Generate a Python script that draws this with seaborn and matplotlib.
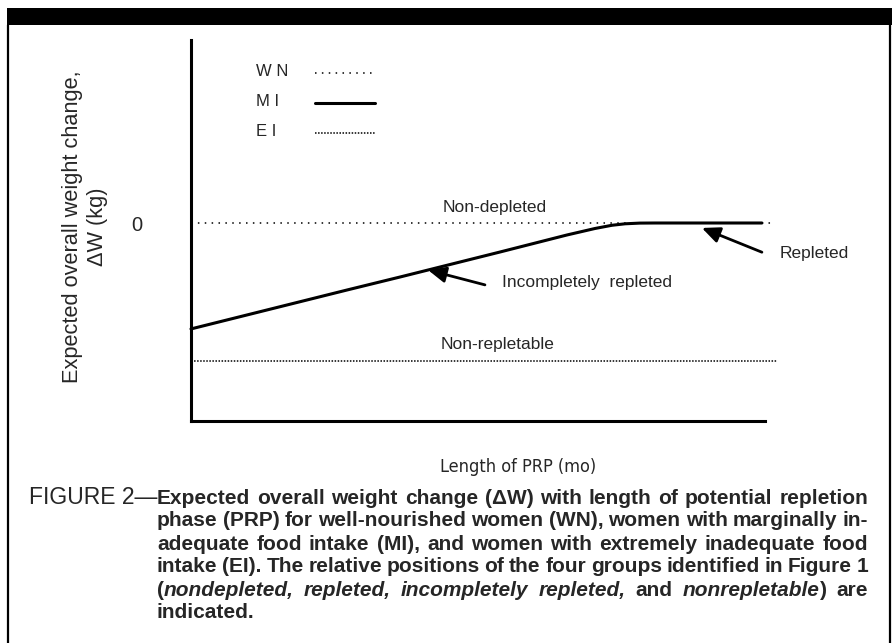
import numpy as np
import pandas as pd
import seaborn as sns
import matplotlib.pyplot as plt
from matplotlib.patches import Rectangle
from matplotlib.lines import Line2D

# length of PRP (months) and expected weight change (kg)
wn_x = [0.0, 24.4]
wn_y = [0.0, 0.0]
mi_x = [0.0, 6.52, 8.74, 12.92, 15.72, 16.89, 17.60, 18.15, 18.77, 19.40, 23.87]
mi_y = [-2.14, -1.354, -1.091, -0.586, -0.242, -0.111, -0.046, -0.016, -0.002, 0.0, 0.0]
ei_x = [0.0, 24.5]
ei_y = [-2.79, -2.79]

series_labels = ["W N", "M I", "E I"]

caption_head = "FIGURE 2\u2014"
caption_lines = [
    [[(w, "n")] for w in "Expected overall weight change (\u0394W) with length of potential repletion".split()],
    [[(w, "n")] for w in "phase (PRP) for well-nourished women (WN), women with marginally in-".split()],
    [[(w, "n")] for w in "adequate food intake (MI), and women with extremely inadequate food".split()],
    [[(w, "n")] for w in "intake (EI). The relative positions of the four groups identified in Figure 1".split()],
    [[("(", "n"), ("nondepleted,", "i")], [("repleted,", "i")], [("incompletely", "i")], [("repleted,", "i")],
     [("and", "n")], [("nonrepletable", "i"), (")", "n")], [("are", "n")]],
    [[("indicated.", "n")]],
]

W, H = 895, 643
sns.set_style("white")
plain = ["Liberation Sans", "DejaVu Sans"]
plt.rcParams["font.family"] = plain

fig = plt.figure(figsize=(W / 100, H / 100), dpi=100)
ax = fig.add_axes([191 / W, 1 - 421 / H, (765 - 191) / W, (421 - 40) / H])

def fx(x):
    return x / W

def fy(y):
    return 1 - y / H

# page frame
fig.add_artist(Rectangle((fx(7), fy(25)), fx(885), 17 / H, transform=fig.transFigure,
                         color="black", lw=0))
fig.add_artist(Line2D([fx(8), fx(8)], [fy(25), fy(643)], transform=fig.transFigure, color="black", lw=1.6))
fig.add_artist(Line2D([fx(890), fx(890)], [fy(25), fy(643)], transform=fig.transFigure, color="black", lw=1.6))

wn = pd.DataFrame({"x": wn_x, "y": wn_y})
mi = pd.DataFrame({"x": mi_x, "y": mi_y})
ei = pd.DataFrame({"x": ei_x, "y": ei_y})

styles = [dict(lw=1.1, linestyle=(0, (1, 3.5))), dict(lw=2.2, linestyle="-"), dict(lw=1.1, linestyle=(0, (1, 1)))]
for df, st in zip([wn, mi, ei], styles):
    sns.lineplot(data=df, x="x", y="y", ax=ax, color="black", clip_on=False, **st)

ax.set_xlim(0, 24)
ax.set_ylim(-4.0, 3.697)
sns.despine(ax=ax)
for s in ["left", "bottom"]:
    ax.spines[s].set_linewidth(2.2)
    ax.spines[s].set_color("black")
ax.set_xticks([])
ax.set_yticks([0])
ax.set_yticklabels(["0"], fontsize=14.5)
ax.tick_params(axis="y", direction="inout", length=26, width=2.2, pad=22, color="black")
ax.set_xlabel("")
ax.set_ylabel("")

ax.text(-0.184, 0.51, "Expected overall weight change,\n\u0394W (kg)", transform=ax.transAxes,
        rotation=90, ha="center", va="center", fontsize=15.7, linespacing=1.25, multialignment="center")
fig.text(fx(518), fy(467), "Length of PRP (mo)", ha="center", va="center", fontsize=13,
         family="DejaVu Sans", fontstretch="condensed")

# legend: labels left aligned, samples to the right
for i, (lab, st) in enumerate(zip(series_labels, styles)):
    yy = 72 + 30 * i
    fig.text(fx(256), fy(yy), lab, fontsize=12, ha="left", va="center")
    fig.add_artist(Line2D([fx(315), fx(375)], [fy(yy + 1), fy(yy + 1)], transform=fig.transFigure,
                          color="black", **st))

ax.text(12.71, 0.32, "Non-depleted", ha="center", va="center", fontsize=12.5)
ax.text(12.8, -2.46, "Non-repletable", ha="center", va="center", fontsize=12.5)
ax.text(13.0, -1.21, "Incompletely  repleted", ha="left", va="center", fontsize=12.5)
ax.text(24.62, -0.61, "Repleted", ha="left", va="center", fontsize=12.5, clip_on=False)

arrow = dict(arrowstyle="-|>,head_length=0.9,head_width=0.4", color="black", lw=2,
             shrinkA=0, shrinkB=0, mutation_scale=12)
ax.annotate("", xy=(9.91, -0.95), xytext=(12.29, -1.25), arrowprops=arrow)
ax.annotate("", xy=(21.36, -0.10), xytext=(23.87, -0.59), arrowprops=arrow, annotation_clip=False)

# caption, justified between x0 and x1
x0, x1 = 157, 868
r = fig.canvas.get_renderer()

def make_words(words, y, fs):
    built = []
    for word in words:
        parts = []
        for s, st in word:
            t = fig.text(0, fy(y), s, fontsize=fs, weight="bold",
                         style="italic" if st == "i" else "normal", ha="left", va="center")
            parts.append((t, t.get_window_extent(r).width))
        built.append(parts)
    return built

# pick the largest size where every justified line still has at least 4px word gaps
need = []
for words in caption_lines[:-1]:
    built = make_words(words, 0, 14)
    tot = sum(w for parts in built for _, w in parts)
    need.append((x1 - x0 - 4 * (len(built) - 1)) / tot)
    for parts in built:
        for t, _ in parts:
            t.remove()
cap_fs = min(15.0, 14 * min(need))

fig.text(fx(x0), fy(498), caption_head, fontsize=16.5, ha="right", va="center")

for i, words in enumerate(caption_lines):
    y = 498 + 23 * i
    built = make_words(words, y, cap_fs)
    widths = [sum(w for _, w in parts) for parts in built]
    if i < len(caption_lines) - 1 and len(built) > 1:
        gap = (x1 - x0 - sum(widths)) / (len(built) - 1)
    else:
        gap = 5
    x = x0
    for parts, ww in zip(built, widths):
        xp = x
        for t, w in parts:
            t.set_x(fx(xp))
            xp += w
        x += ww + gap

fig.savefig("out.png", dpi=100, facecolor="white")
